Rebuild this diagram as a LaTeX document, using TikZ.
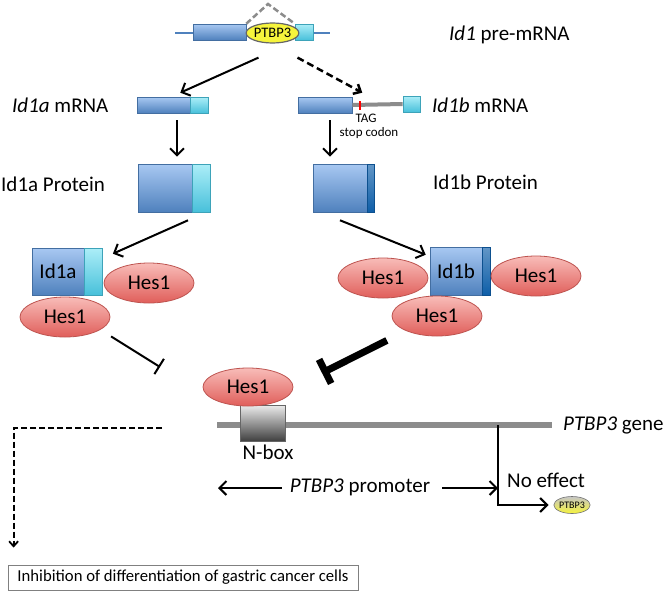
\documentclass[tikz,border=0pt]{standalone}
\usepackage{fontspec}
\setmainfont{Carlito}
\usetikzlibrary{positioning,arrows.meta,shapes.geometric}

\definecolor{exonblue}{RGB}{79,129,189}
\definecolor{exonbluelt}{RGB}{168,200,242}
\definecolor{exoncyan}{RGB}{72,192,218}
\definecolor{exoncyanlt}{RGB}{172,238,248}
\definecolor{stripblue}{RGB}{14,94,168}
\definecolor{hesred}{RGB}{224,94,90}
\definecolor{hesredlt}{RGB}{248,188,184}
\definecolor{hesline}{RGB}{190,84,80}
\definecolor{genegray}{RGB}{140,140,140}
\definecolor{ptbyellow}{RGB}{246,244,60}

\tikzset{
  exon/.style={rectangle, draw=exonblue!85!black, line width=0.6pt, top color=exonbluelt, bottom color=exonblue, inner sep=0pt},
  utr/.style={rectangle, draw=exoncyan!85!black, line width=0.6pt, top color=exoncyanlt, bottom color=exoncyan, inner sep=0pt},
  tail/.style={rectangle, draw=stripblue!85!black, line width=0.6pt, top color=stripblue!65!white, bottom color=stripblue, inner sep=0pt},
  hes/.style={ellipse, draw=hesline, line width=0.8pt, top color=hesredlt, bottom color=hesred, minimum width=90pt, minimum height=40pt, inner sep=0pt},
  ptb/.style={ellipse, draw=black!60, line width=1.2pt, fill=ptbyellow, minimum width=42pt, minimum height=20pt, inner sep=0pt, font=\fontsize{14.5}{16}\selectfont},
  ptbsmall/.style={ellipse, draw=black!55, line width=0.6pt, top color=gray!45, bottom color=ptbyellow, minimum width=31pt, minimum height=17pt, inner sep=0pt, font=\fontsize{10}{12}\selectfont},
  nboxstyle/.style={rectangle, draw=black!60, line width=0.6pt, top color=gray!15, bottom color=black!75, inner sep=0pt},
  lab/.style={inner sep=0pt},
  tiny/.style={inner sep=0pt, font=\fontsize{13}{15}\selectfont},
  arr/.style={-{Straight Barb[length=7pt,width=14pt]}, line width=2pt},
  darr/.style={-{Straight Barb[length=6pt,width=11pt]}, line width=2.5pt, dash pattern=on 7pt off 4pt},
  dlarr/.style={-{Straight Barb[length=5pt,width=9pt]}, line width=1.8pt, dash pattern=on 6pt off 3pt},
  splice/.style={genegray, line width=2.5pt, dash pattern=on 6pt off 3pt},
  gene/.style={genegray, line width=6pt},
  winh/.style={-{Bar[width=18pt]}, line width=2pt},
  sinh/.style={-{Bar[width=27pt]}, line width=7pt}
}

\begin{document}
\begin{tikzpicture}[x=1pt,y=-1pt,font=\fontsize{21}{25}\selectfont]
\fill[white] (0,0) rectangle (669,592);
\useasboundingbox (0,0) rectangle (669,592);

\coordinate (p0) at (175,33);
\coordinate (p1) at (330,33);
\draw[exonblue, line width=2pt] (p0) -- (p1);
\node[exon, minimum width=53pt, minimum height=16pt] (e1) at (219.5,32) {};
\node[utr, minimum width=18pt, minimum height=16pt] (e2) at (304,32) {};
\draw[genegray, line width=5pt] (e1.east) -- (e2.west);
\coordinate (apex) at (268,4);
\draw[splice] (e1.north east) -- (apex) -- (e2.north west);
\node[ptb] (ptb) at (272.5,33) {PTBP3};
\node[lab, anchor=west] (prelab) at (449,35) {\textit{Id1} pre-mRNA};

\node[exon, minimum width=53pt, minimum height=16pt] (amb) at (163.5,105) {};
\node[utr, minimum width=18pt, minimum height=16pt, right=0pt of amb] (amc) {};
\node[lab, anchor=west] (amlab) at (12,105) {\textit{Id1a} mRNA};

\node[exon, minimum width=54pt, minimum height=16pt] (bmb) at (325,105) {};
\node[utr, minimum width=17pt, minimum height=16pt] (bmc) at (411.5,104) {};
\draw[genegray, line width=4pt] (bmb.east) -- (bmc.west);
\node[fill=red, inner sep=0pt, minimum width=2.5pt, minimum height=9pt] (stopc) at (360,105) {};
\node[tiny] (tag) at (366,118) {TAG};
\node[tiny] (stoplab) at (369,133) {stop codon};
\node[lab, anchor=west] (bmlab) at (432,105) {\textit{Id1b} mRNA};

\node[exon, minimum width=54pt, minimum height=48pt] (apb) at (165,188) {};
\node[utr, minimum width=18pt, minimum height=48pt, right=0pt of apb] (apc) {};
\node[lab, anchor=west] (aplab) at (1,184) {Id1a Protein};
\node[exon, minimum width=54pt, minimum height=48pt] (bpb) at (340,188) {};
\node[tail, minimum width=7pt, minimum height=48pt, right=0pt of bpb] (bpc) {};
\node[lab, anchor=west] (bplab) at (433,182) {Id1b Protein};

\node[exon, minimum width=52pt, minimum height=47pt] (acb) at (58,271.5) {Id1a};
\node[utr, minimum width=18pt, minimum height=47pt, right=0pt of acb] (acc) {};
\node[hes] (ah1) at (149,283) {Hes1};
\node[hes] (ah2) at (65,317) {Hes1};

\node[exon, minimum width=52pt, minimum height=48pt] (bcb) at (456,271) {Id1b};
\node[tail, minimum width=8pt, minimum height=48pt, right=0pt of bcb] (bcc) {};
\node[hes] (bh1) at (383,278) {Hes1};
\node[hes] (bh2) at (536,276) {Hes1};
\node[hes] (bh3) at (437,316) {Hes1};

\draw[arr] ([xshift=-14pt,yshift=-14pt]ptb.south) -- ([xshift=-10pt,yshift=4pt]amb.north east);
\draw[darr] ([xshift=25pt,yshift=-14pt]ptb.south) -- ([xshift=10pt,yshift=4pt]bmb.north east);
\draw[arr] ([xshift=13.5pt,yshift=-7pt]amb.south) -- ([xshift=12pt,yshift=7pt]apb.north);
\draw[arr] ([xshift=5pt,yshift=-7pt]bmb.south) -- ([xshift=-10pt,yshift=7pt]bpb.north);
\draw[arr] ([xshift=23pt,yshift=-8pt]apb.south) -- ([xshift=10pt,yshift=-6pt]acc.north east);
\draw[arr] ([yshift=-8pt]bpb.south) -- ([xshift=-4pt,yshift=-8pt]bcb.north west);

\coordinate (g0) at (217,425);
\node[lab, anchor=west] (glab) at (563,425) {\textit{PTBP3} gene};
\draw[gene] (g0) -- ([xshift=-11pt]glab.west);
\node[nboxstyle, minimum width=45pt, minimum height=36pt] (nbox) at (262.5,423) {};
\node[hes, minimum height=38pt] (gh) at (248,387) {Hes1};
\node[lab] (nlab) at (268,452) {N-box};

\coordinate (ainh) at (160,367);
\coordinate (binh) at (322,373);
\draw[winh] ([xshift=14pt,yshift=-5pt]ah2.south east) -- (ainh);
\draw[sinh] ([xshift=-18pt,yshift=-10pt]bh3.south west) -- (binh);

\coordinate (tss) at (498,425);
\coordinate (pl) at (218,488);
\node[lab] (prom) at (360,487) {\textit{PTBP3} promoter};
\draw[arr] ([xshift=-8pt,yshift=-1pt]prom.west) -- (pl);
\draw[arr] ([xshift=12pt,yshift=-1pt]prom.east) -- ([yshift=-1pt]prom.east -| tss);
\node[lab, anchor=west] (noeff) at (507,480) {No effect};
\node[ptbsmall] (sp) at (572,505) {PTBP3};
\draw[arr] (tss) |- ([xshift=-5pt]sp.west);

\coordinate (dstart) at (162,428);
\node[draw=black!50, line width=0.8pt, minimum width=350pt, minimum height=25pt, inner sep=0pt, font=\fontsize{16.7}{20}\selectfont] (inhib) at (183,577.5) {Inhibition of differentiation of gastric cancer cells};
\draw[dlarr, shorten >=17pt] (dstart) -| ([xshift=6pt]inhib.north west);
\end{tikzpicture}
\end{document}
